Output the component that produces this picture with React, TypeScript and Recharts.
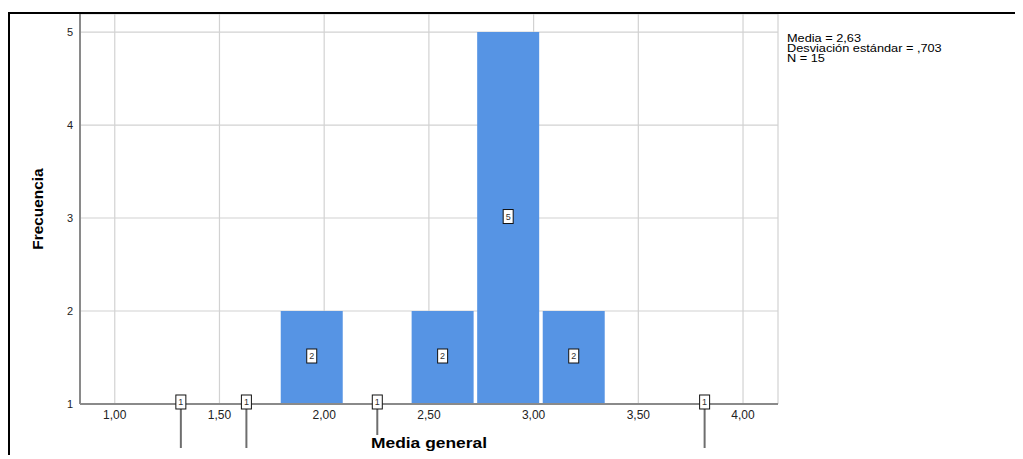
import { ComposedChart, Bar, XAxis, YAxis, CartesianGrid, LabelList } from 'recharts';

// histogram bins (centre of each bin) and counts
const binCenters = [1.314, 1.627, 1.939, 2.252, 2.564, 2.877, 3.19, 3.815];
const frequencies = [1, 1, 2, 1, 2, 5, 2, 1];
const xTicks = [1, 1.5, 2, 2.5, 3, 3.5, 4];
const yTicks = [1, 2, 3, 4, 5];
const statsLines = ['Media = 2,63', 'Desviación estándar = ,703', 'N = 15'];

const data = binCenters.map((center, i) => ({ center, freq: frequencies[i] }));

const FONT = '"Liberation Sans", Arial, sans-serif';

function CountLabel(props: any) {
  const { x, y, width, height, value } = props;
  if (!value) return null;
  const cx = Number(x) + Number(width) / 2;
  const flat = Math.abs(Number(height)) < 1;
  const cy = Number(y) + Number(height) / 2 - (flat ? 2 : 1.5);
  return (
    <g>
      {flat && <line x1={cx} x2={cx} y1={cy + 7} y2={cy + 46} stroke="#6e6e6e" strokeWidth={2} />}
      <rect x={cx - 5} y={cy - 7} width={10} height={14} fill="#fff" stroke="#111" strokeWidth={1} />
      <text x={cx} y={cy + 3.2} textAnchor="middle" fontSize={9} fontFamily={FONT} fill="#333">{value}</text>
    </g>
  );
}

export default function App() {
  return (
    <div style={{ position: 'relative', top: 4, width: 1015, height: 447, boxSizing: 'border-box', borderTop: '2px solid #000', borderLeft: '2px solid #000', background: '#fff', fontFamily: FONT }}>
      <style>{'html,body{overflow:hidden}'}</style>
      <ComposedChart width={1013} height={445} data={data} margin={{ top: 0, right: 245, bottom: 30, left: 40 }}>
        <CartesianGrid stroke="#d2d2d2" strokeWidth={1.2} />
        <XAxis dataKey="center" type="number" domain={[0.834, 4.167]} ticks={xTicks} interval={0}
          tickFormatter={(v: number) => v.toFixed(2).replace('.', ',')}
          axisLine={{ stroke: '#8a8a8a', strokeWidth: 2 }} tickLine={false} tickSize={6} tickMargin={0} height={25}
          tick={{ fontSize: 12, fill: '#222', fontFamily: FONT }} />
        <YAxis type="number" domain={[1, 5.194]} ticks={yTicks} interval={0} width={30}
          axisLine={{ stroke: '#8a8a8a', strokeWidth: 2 }} tickLine={false} tickSize={6} tickMargin={1}
          tick={{ fontSize: 11, fill: '#222', fontFamily: FONT }}
          label={{ value: 'Frecuencia', angle: -90, position: 'left', offset: 12.5, textAnchor: 'middle',
            style: { fontSize: 15.4, fontWeight: 'bold', fill: '#000', fontFamily: FONT } }} />
        <Bar dataKey="freq" fill="#5694e4" barSize={62} minPointSize={0.01} isAnimationActive={false}>
          <LabelList dataKey="freq" content={CountLabel} />
        </Bar>
      </ComposedChart>
      <div style={{ position: 'absolute', left: 777, top: 19.7, fontSize: 10.2, lineHeight: '10.2px', color: '#000', whiteSpace: 'nowrap', transform: 'scaleX(1.25)', transformOrigin: 'left top' }}>
        {statsLines.map(s => <div key={s}>{s}</div>)}
      </div>
      <div style={{ position: 'absolute', left: 418.5, top: 420.5, fontSize: 15.4, lineHeight: '16px', fontWeight: 'bold', color: '#000', background: '#fff', padding: '0 3px', whiteSpace: 'nowrap', transform: 'translateX(-50%) scaleX(1.13)' }}>
        Media general
      </div>
    </div>
  );
}
